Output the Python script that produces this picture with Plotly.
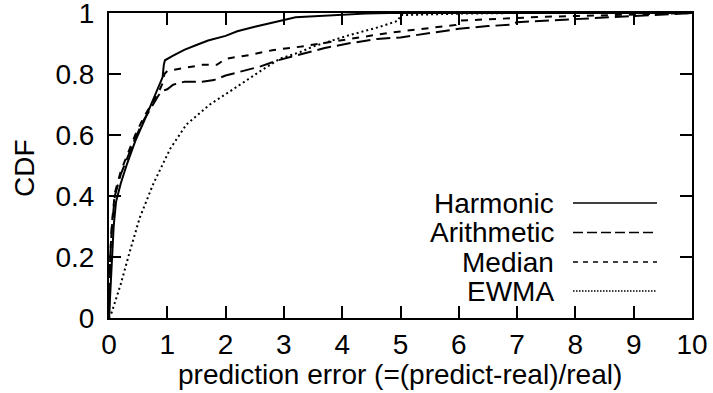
import plotly.graph_objects as go

# Prediction error CDF for four estimators
harmonic_x = [0, 0.03, 0.05, 0.08, 0.12, 0.2, 0.3, 0.45, 0.6, 0.7, 0.8, 0.88, 0.92, 0.94, 0.96,
              1.1, 1.3, 1.5, 1.7, 2.0, 2.2, 2.5, 2.8, 3.0, 3.2, 3.6, 4.0, 4.4, 4.8, 10]
harmonic_y = [0, 0.12, 0.2, 0.3, 0.38, 0.44, 0.5, 0.58, 0.645, 0.69, 0.735, 0.77, 0.79, 0.83, 0.845,
              0.86, 0.88, 0.895, 0.91, 0.925, 0.94, 0.955, 0.967, 0.977, 0.986, 0.99, 0.995, 0.998, 1.0, 1.0]

arith_x = [0, 0.02, 0.05, 0.1, 0.2, 0.3, 0.45, 0.6, 0.75, 0.85, 0.92, 1.0, 1.1, 1.3, 1.6, 1.8,
           2.0, 2.3, 2.6, 2.9, 3.3, 3.7, 4.1, 4.6, 5.0, 5.5, 6.0, 6.5, 6.9, 7.0, 7.5, 8.0, 8.5, 9.0, 9.5, 10]
arith_y = [0, 0.2, 0.3, 0.4, 0.47, 0.52, 0.59, 0.65, 0.70, 0.73, 0.745, 0.75, 0.765, 0.775, 0.775, 0.78,
           0.795, 0.81, 0.825, 0.845, 0.865, 0.885, 0.90, 0.915, 0.92, 0.935, 0.948, 0.957, 0.962, 0.97,
           0.975, 0.978, 0.985, 0.99, 0.995, 1.0]

median_x = [0, 0.02, 0.05, 0.1, 0.2, 0.3, 0.45, 0.6, 0.75, 0.85, 0.92, 0.95, 1.0, 1.3, 1.6, 1.85,
            2.0, 2.4, 2.8, 3.3, 3.8, 4.3, 4.8, 5.2, 5.6, 5.95, 6.0, 6.5, 7.0, 7.5, 8.0, 8.5, 9.0, 9.5, 10]
median_y = [0, 0.2, 0.31, 0.41, 0.48, 0.53, 0.6, 0.66, 0.71, 0.74, 0.77, 0.80, 0.81, 0.82, 0.83, 0.83,
            0.85, 0.862, 0.878, 0.89, 0.905, 0.922, 0.935, 0.944, 0.953, 0.961, 0.975, 0.98, 0.985,
            0.988, 0.99, 0.992, 0.995, 0.998, 1.0]

ewma_x = [0, 0.05, 0.1, 0.2, 0.36, 0.53, 0.76, 1.0, 1.05, 1.33, 1.73, 2.13, 2.4, 2.6, 2.93, 3.28,
          3.5, 4.08, 4.65, 4.96, 5.0, 5.5, 6.0, 7.0, 10]
ewma_y = [0, 0.02, 0.05, 0.11, 0.22, 0.33, 0.44, 0.54, 0.555, 0.635, 0.70, 0.75, 0.785, 0.81, 0.85,
          0.872, 0.89, 0.925, 0.955, 0.975, 0.993, 0.996, 0.998, 1.0, 1.0]

series_names = ["Harmonic", "Arithmetic", "Median", "EWMA"]
series_x = [harmonic_x, arith_x, median_x, ewma_x]
series_y = [harmonic_y, arith_y, median_y, ewma_y]
curve_dash = ["solid", "14px,6px", "7px,7px", "2px,3px"]
key_dash = ["solid", "10px,4px", "5px,5px", "1.5px,1.5px"]

x_ticks = list(range(0, 11))
y_ticks = [0, 0.2, 0.4, 0.6, 0.8, 1]

FONT = "Liberation Sans, Arial, Helvetica, sans-serif"
W, H = 713, 393
ML, MR, MT, MB = 109, 21, 13, 75
PW, PH = W - ML - MR, H - MT - MB

fig = go.Figure()
for name, xs, ys, d in zip(series_names, series_x, series_y, curve_dash):
    fig.add_trace(go.Scatter(x=xs, y=ys, mode="lines", name=name,
                             line=dict(color="black", width=2, dash=d),
                             showlegend=False))


def px_to_paper(px, py):
    return (px - ML) / PW, (H - MB - py) / PH


# key: right-aligned labels followed by line samples
key_rows = [203, 232.5, 262, 291]
for name, d, row in zip(series_names, key_dash, key_rows):
    tx, ty = px_to_paper(556, row)
    fig.add_annotation(x=tx, y=ty, xref="paper", yref="paper", text=name, showarrow=False,
                       xanchor="right", yanchor="middle",
                       font=dict(family=FONT, size=28, color="black"))
    x0, y0 = px_to_paper(573, row)
    x1, _ = px_to_paper(657, row)
    fig.add_shape(type="line", xref="paper", yref="paper", x0=x0, x1=x1, y0=y0, y1=y0,
                  line=dict(color="black", width=1.6, dash=d))

# axis titles
tx, ty = px_to_paper(400, 374)
fig.add_annotation(x=tx, y=ty, xref="paper", yref="paper",
                   text="prediction error (=(predict-real)/real)", showarrow=False,
                   xanchor="center", yanchor="middle",
                   font=dict(family=FONT, size=28, color="black"))
tx, ty = px_to_paper(24, 168)
fig.add_annotation(x=tx, y=ty, xref="paper", yref="paper", text="CDF", showarrow=False,
                   textangle=-90, xanchor="center", yanchor="middle",
                   font=dict(family=FONT, size=28, color="black"))

axis_common = dict(showgrid=False, zeroline=False, showline=True, linecolor="black", linewidth=2,
                   mirror="ticks", ticks="inside", ticklen=12, tickwidth=1.5, tickcolor="black",
                   ticklabeloverflow="allow", automargin=False,
                   tickfont=dict(family=FONT, size=28, color="black"))
fig.update_xaxes(range=[0, 10], tickvals=x_ticks, ticktext=[str(v) for v in x_ticks],
                 ticklabelstandoff=0, **axis_common)
fig.update_yaxes(range=[0, 1], tickvals=y_ticks, ticktext=["0", "0.2", "0.4", "0.6", "0.8", "1"],
                 ticklabelstandoff=7, **axis_common)

fig.update_layout(width=W, height=H, margin=dict(l=ML, r=MR, t=MT, b=MB, autoexpand=False),
                  plot_bgcolor="white", paper_bgcolor="white", showlegend=False)

fig.write_html("out.html")
